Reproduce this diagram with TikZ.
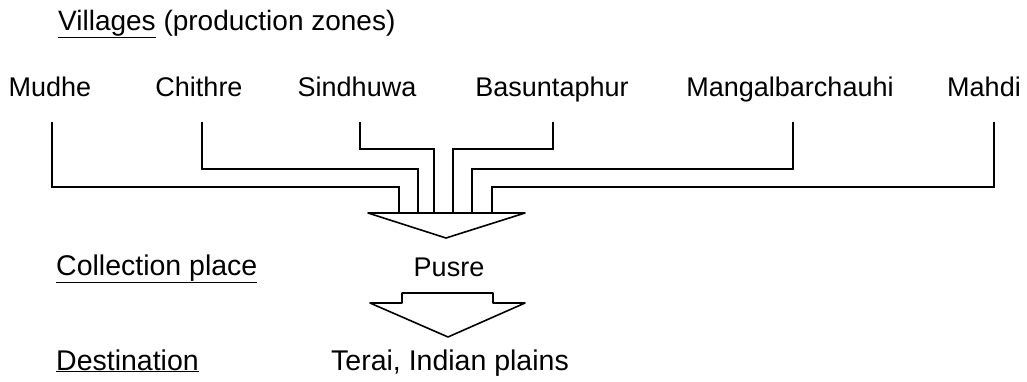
\documentclass[tikz,border=0pt]{standalone}
\usepackage{fontspec}
\setmainfont{Liberation Sans}
\begin{document}
\begin{tikzpicture}[x=1pt,y=-1pt,
  lbl/.style={inner sep=0pt,font=\fontsize{27}{32}\selectfont},
  biglbl/.style={inner sep=0pt,font=\fontsize{28.5}{34}\selectfont},
  conn/.style={line width=1.6pt,line join=miter},
  arr/.style={line width=1.6pt,line join=round,fill=white}]
\useasboundingbox (0,0) rectangle (1027,381);
% header
\node[inner sep=0pt,font=\fontsize{28}{33}\selectfont,anchor=base west] (hdr) at (58,30) {\underline{Villages} (production zones)};
% villages
\node[lbl,anchor=base] (mudhe) at (50,96) {Mudhe};
\node[lbl,anchor=base] (chithre) at (199,96) {Chithre};
\node[lbl,anchor=base] (sindhuwa) at (357,96) {Sindhuwa};
\node[lbl,anchor=base] (basun) at (552,96) {Basuntaphur};
\node[lbl,anchor=base] (mangal) at (790,96) {Mangalbarchauhi};
\node[lbl,anchor=base] (mahdi) at (984,96) {Mahdi};
% left labels
\node[biglbl,anchor=base west] (coll) at (56,275) {\underline{Collection place}};
\node[biglbl,anchor=base west] (dest) at (56,370) {\underline{Destination}};
\node[lbl,anchor=base] (pusre) at (449,276) {Pusre};
\node[biglbl,anchor=base] (terai) at (450,370) {Terai, Indian plains};
% line start points
\coordinate (t1) at (52,122);
\coordinate (t2) at (202,122);
\coordinate (t3) at (360,122);
\coordinate (t4) at (553,122);
\coordinate (t5) at (793,122);
\coordinate (t6) at (994,122);
% drop points on arrow
\coordinate (d1) at (399,213);
\coordinate (d2) at (418,213);
\coordinate (d3) at (434,213);
\coordinate (d4) at (453,213);
\coordinate (d5) at (472,213);
\coordinate (d6) at (492,213);
% connectors
\draw[conn] (t1) -- (52,187) -- (399,187) -- (d1);
\draw[conn] (t2) -- (202,169) -- (418,169) -- (d2);
\draw[conn] (t3) -- (360,149) -- (434,149) -- (d3);
\draw[conn] (t4) -- (553,149) -- (453,149) -- (d4);
\draw[conn] (t5) -- (793,169) -- (472,169) -- (d5);
\draw[conn] (t6) -- (994,187) -- (492,187) -- (d6);
% arrow 1
\draw[arr] (368,213) -- (525,213) -- (446,238) -- cycle;
% arrow 2
\draw[arr] (370,303) -- (402,303) -- (402,293) -- (493,293) -- (493,303) -- (525,303) -- (448,337) -- cycle;
\end{tikzpicture}
\end{document}
